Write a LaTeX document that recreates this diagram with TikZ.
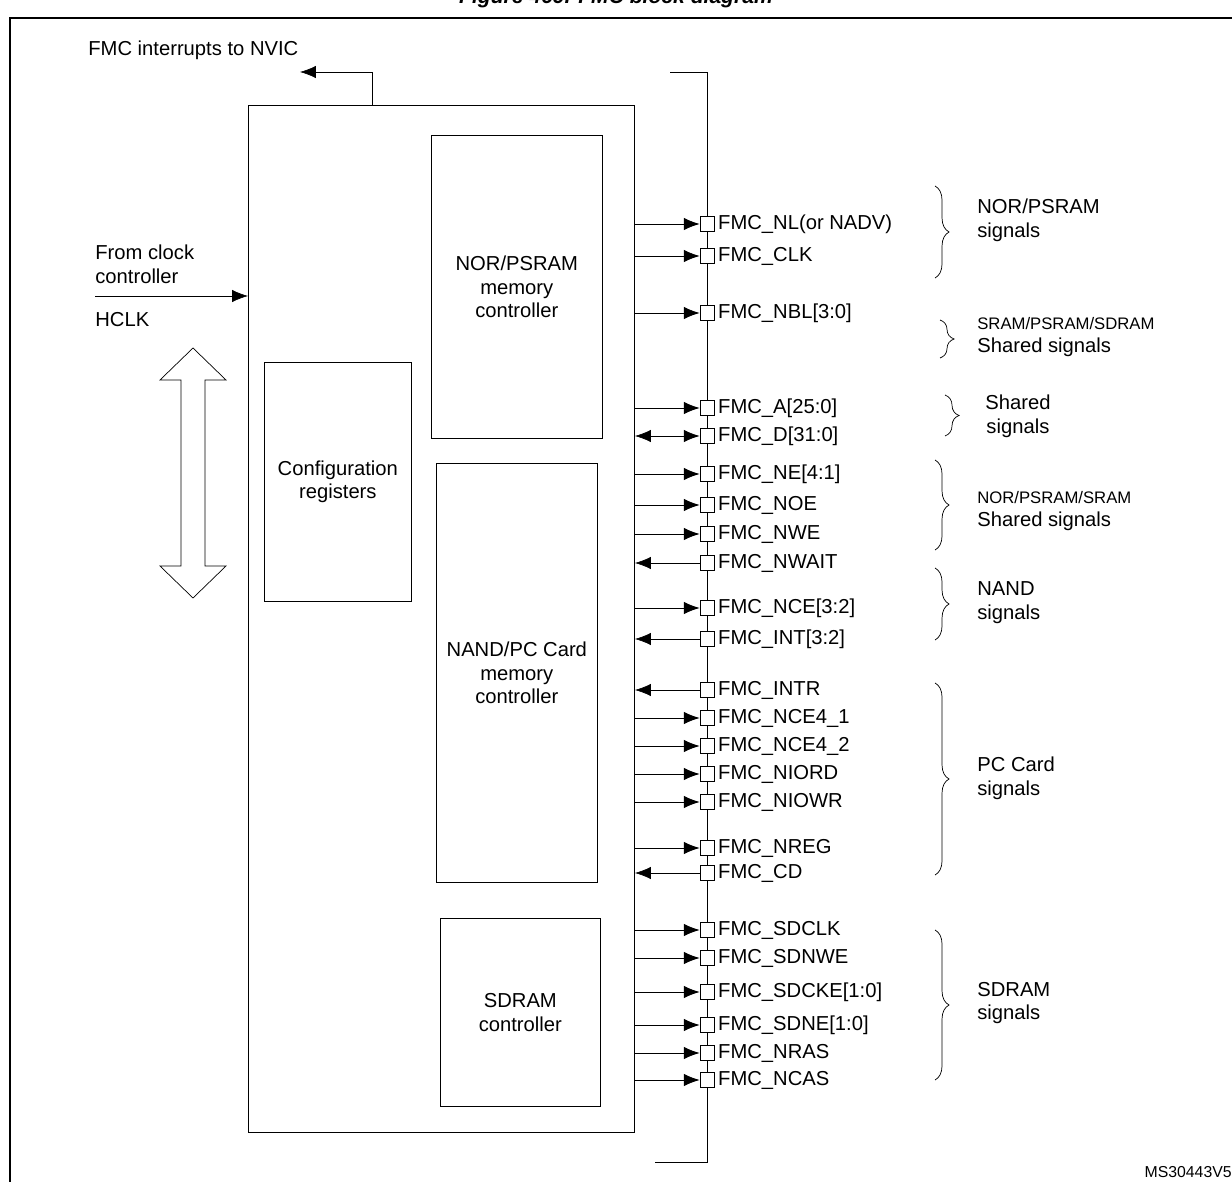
\documentclass[tikz,border=0pt]{standalone}
\usepackage{fontspec}
\setmainfont{Liberation Sans}
\usetikzlibrary{arrows.meta,decorations.pathreplacing}
\begin{document}
\begin{tikzpicture}[x=0.02cm,y=-0.02cm,
    every node/.style={font=\fontsize{11.5}{13.5}\selectfont},
    block/.style={draw, semithick, align=center},
    sub/.style={draw, align=center},
    pin/.style={draw, fill=white, minimum width=0.28cm, minimum height=0.31cm, inner sep=0pt},
    sig/.style={anchor=west, inner sep=2pt},
    grp/.style={anchor=west, align=left, inner sep=0pt},
    brc/.style={decorate, decoration={brace, amplitude=8pt}},
    tip/.style={-{Latex[length=9pt,width=7pt]}}
]
\useasboundingbox (0,0) rectangle (1232,1182);
\node[font=\bfseries\itshape\fontsize{12}{14}\selectfont] (title) at (616,-2) {Figure 469. FMC block diagram};
\draw[thick] (10,1182) -- (10,18) -- (1232,18);

% FMC main block
\node[block, minimum width=7.72cm, minimum height=20.54cm, anchor=north west] (fmc) at (248,105) {};
\node[sub, minimum width=3.42cm, minimum height=6.06cm, anchor=north west] (nor) at (431,135) {NOR/PSRAM\\memory\\controller};
\node[sub, minimum width=3.22cm, minimum height=8.38cm, anchor=north west] (nand) at (436,463) {NAND/PC Card\\memory\\controller};
\node[sub, minimum width=3.2cm, minimum height=3.76cm, anchor=north west] (sdram) at (440,918) {SDRAM\\controller};
\node[sub, minimum width=2.94cm, minimum height=4.78cm, anchor=north west] (cfg) at (264,362) {Configuration\\registers};

% interrupts
\coordinate (irq) at (300,72);
\node[anchor=south west, inner sep=0pt] (irqlbl) at (88,60) {FMC interrupts to NVIC};
\draw[tip] (fmc.north west -| 372,0) |- (irq);

% clock
\coordinate (clk) at (95,296);
\node[anchor=south west, align=left, inner sep=0pt] (clklbl) at (95,284) {From clock\\controller};
\node[anchor=north west, inner sep=0pt] (hclk) at (95,312) {HCLK};
\draw[tip] (clk) -- (clk -| fmc.west);

% bus arrow
\draw (193,348) -- (226,380) -- (205,380) -- (205,566) -- (226,566) -- (193,598)
      -- (160,566) -- (181,566) -- (181,380) -- (160,380) -- cycle;

% pin bus
\coordinate (bt) at (670,72);
\coordinate (bb) at (655,1162);
\draw (bt) -- (707,72) -- (707,1162) -- (bb);

\foreach \y/\name/\dir [count=\i] in {
  224/{FMC\_NL(or NADV)}/o, 256/{FMC\_CLK}/o, 313/{FMC\_NBL[3:0]}/o,
  408/{FMC\_A[25:0]}/o, 436/{FMC\_D[31:0]}/b, 474/{FMC\_NE[4:1]}/o,
  505/{FMC\_NOE}/o, 534/{FMC\_NWE}/o, 563/{FMC\_NWAIT}/i,
  608/{FMC\_NCE[3:2]}/o, 639/{FMC\_INT[3:2]}/i, 690/{FMC\_INTR}/i,
  718/{FMC\_NCE4\_1}/o, 746/{FMC\_NCE4\_2}/o, 774/{FMC\_NIORD}/o,
  802/{FMC\_NIOWR}/o, 848/{FMC\_NREG}/o, 873/{FMC\_CD}/i,
  930/{FMC\_SDCLK}/o, 958/{FMC\_SDNWE}/o, 992/{FMC\_SDCKE[1:0]}/o,
  1025/{FMC\_SDNE[1:0]}/o, 1053/{FMC\_NRAS}/o, 1080/{FMC\_NCAS}/o} {
  \node[pin] (p\i) at (707,\y) {};
  \node[sig] (s\i) at (p\i.east) {\name};
  \if\dir o \draw[tip] (fmc.east |- p\i) -- (p\i.west); \fi
  \if\dir i \draw[tip] (p\i.west) -- (fmc.east |- p\i); \fi
  \if\dir b \draw[{Latex[length=9pt,width=7pt]}-{Latex[length=9pt,width=7pt]}] (fmc.east |- p\i) -- (p\i.west); \fi
}

% signal groups
\draw[brc] (935,186) -- (935,278);
\node[grp] (g1) at (977,220) {NOR/PSRAM\\signals};
\draw[brc] (940,320) -- (940,358);
\node[grp] (g2) at (977,337) {{\fontsize{9.5}{10}\selectfont SRAM/PSRAM/SDRAM}\\Shared signals};
\draw[brc] (945,395) -- (945,436);
\node[grp, align=center] (g3) at (985,416) {Shared\\signals};
\draw[brc] (935,460) -- (935,550);
\node[grp] (g4) at (977,511) {{\fontsize{9.5}{10}\selectfont NOR/PSRAM/SRAM}\\Shared signals};
\draw[brc] (935,568) -- (935,640);
\node[grp] (g5) at (977,603) {NAND\\signals};
\draw[brc] (935,683) -- (935,875);
\node[grp] (g6) at (977,778) {PC Card\\signals};
\draw[brc] (935,930) -- (935,1080);
\node[grp] (g7) at (977,1003) {SDRAM\\signals};

\node[anchor=east, inner sep=0pt, font=\fontsize{9}{10}\selectfont] (ref) at (1232,1172) {MS30443V5};
\end{tikzpicture}
\end{document}
